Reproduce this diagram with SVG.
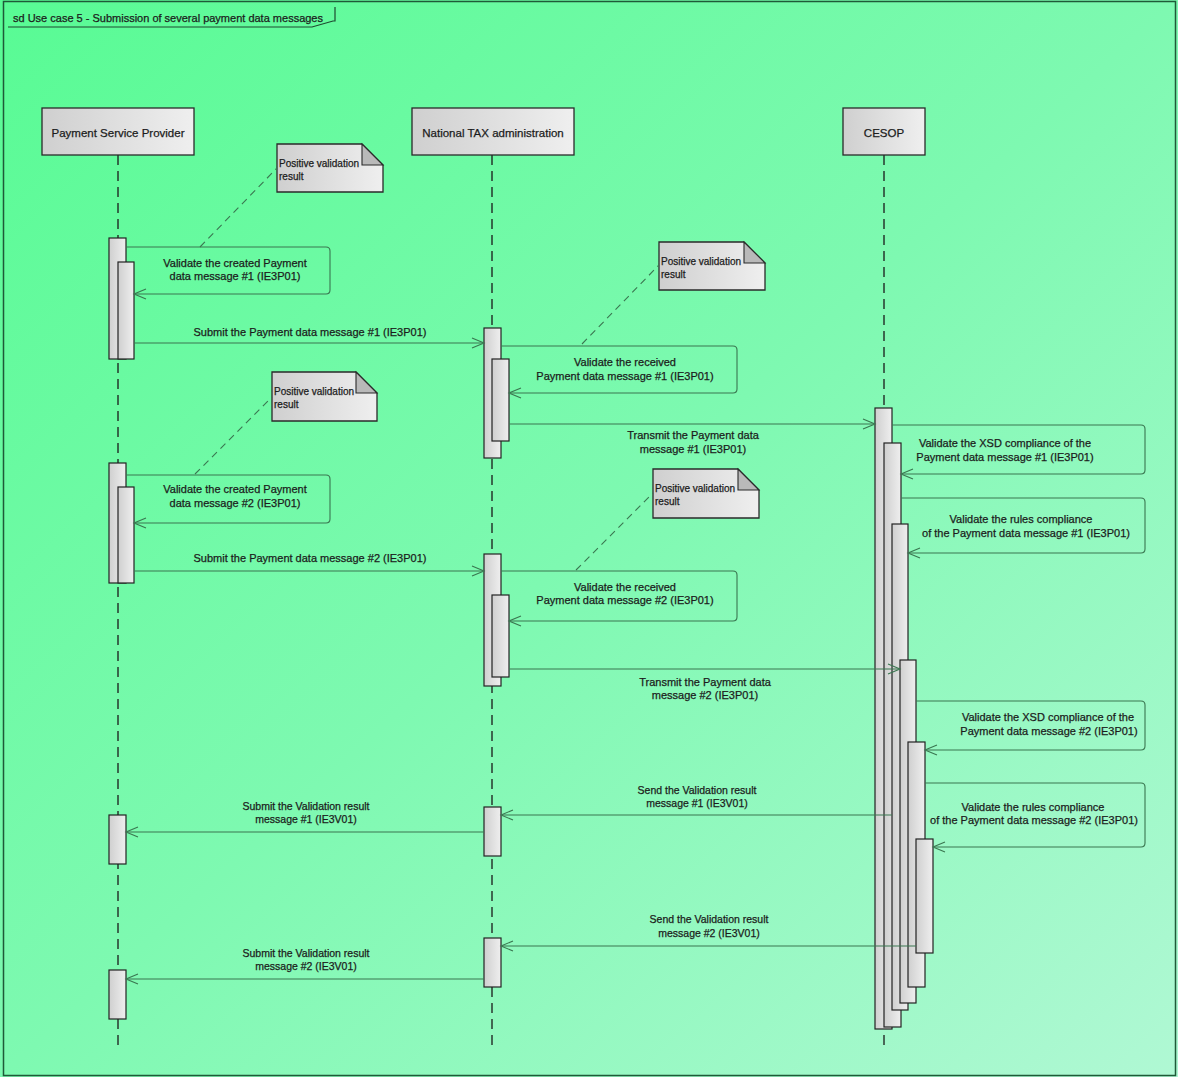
<svg xmlns="http://www.w3.org/2000/svg" width="1178" height="1077" viewBox="0 0 1178 1077">
<defs>
<linearGradient id="bg" x1="0" y1="0" x2="1" y2="1">
<stop offset="0" stop-color="#58fb94"/>
<stop offset="0.5" stop-color="#7ef9b1"/>
<stop offset="1" stop-color="#b0f8d4"/>
</linearGradient>
<linearGradient id="gray" x1="0" y1="0" x2="1" y2="0">
<stop offset="0" stop-color="#cfcfcf"/>
<stop offset="1" stop-color="#efefef"/>
</linearGradient>
<marker id="arr" viewBox="-14 -7 16 14" refX="0" refY="0" markerWidth="16" markerHeight="14" markerUnits="userSpaceOnUse" orient="auto">
<path d="M-12,-5 L0,0 L-12,5" fill="none" stroke="#3a7650" stroke-width="1.1"/>
</marker>
<style>
text{font-family:"Liberation Sans",Arial,sans-serif;fill:#1c1c1c;stroke:#1c1c1c;stroke-width:0.25;font-size:11px}
.hd{font-size:11.5px}
.c{text-anchor:middle}
.sm{font-size:10.5px}
.nt{font-size:10px}
.box{fill:url(#gray);stroke:#2a2a2a;stroke-width:1.3}
.bar{fill:url(#gray);stroke:#222;stroke-width:1.2}
.life{stroke:#1a1a1a;stroke-width:1.3;stroke-dasharray:10 6;fill:none}
.msg{fill:none;stroke:#3a7650;stroke-width:1.1;marker-end:url(#arr)}
.anc{fill:none;stroke:#3a7650;stroke-width:1.1;stroke-dasharray:7 5}
.fold{fill:#b9b9b9;stroke:#2a2a2a;stroke-width:1.1}
</style>
</defs>
<rect x="0" y="0" width="1178" height="1077" fill="url(#bg)"/>
<rect x="3.5" y="1.5" width="1172" height="1074" fill="none" stroke="#1f5a38" stroke-width="1.5"/>
<g id="frame-title">
<path d="M8,27 H312 L333,21 L335,21 V7" fill="none" stroke="#1f4a30" stroke-width="1.2"/>
<text x="13" y="22">sd Use case 5 - Submission of several payment data messages</text>
</g>

<g id="psp">
<line class="life" x1="118" y1="155" x2="118" y2="1047"/>
<rect class="box" x="42" y="108" width="152" height="47"/>
<text class="hd c" x="118" y="137">Payment  Service Provider</text>
</g>
<g id="nta">
<line class="life" x1="492" y1="155" x2="492" y2="1047"/>
<rect class="box" x="412" y="108" width="162" height="47"/>
<text class="hd c" x="493" y="137">National TAX administration</text>
</g>
<g id="cesop">
<line class="life" x1="884" y1="155" x2="884" y2="1047"/>
<rect class="box" x="843" y="108" width="82" height="47"/>
<text class="hd c" x="884" y="137">CESOP</text>
</g>

<g id="psp-activations">
<rect class="bar" x="109" y="238" width="17" height="121"/>
<rect class="bar" x="118" y="262" width="16" height="97"/>
<rect class="bar" x="109" y="463" width="17" height="120"/>
<rect class="bar" x="118" y="487" width="16" height="96"/>
<rect class="bar" x="109" y="815" width="17" height="49"/>
<rect class="bar" x="109" y="970" width="17" height="49"/>
</g>
<g id="nta-activations">
<rect class="bar" x="484" y="328" width="17" height="130"/>
<rect class="bar" x="492" y="359" width="17" height="82"/>
<rect class="bar" x="484" y="554" width="17" height="132"/>
<rect class="bar" x="492" y="595" width="17" height="82"/>
<rect class="bar" x="484" y="807" width="17" height="49"/>
<rect class="bar" x="484" y="938" width="17" height="49"/>
</g>
<g id="cesop-activations">
<rect class="bar" x="875" y="408" width="17" height="621"/>
<rect class="bar" x="884" y="443" width="17" height="584"/>
<rect class="bar" x="892" y="524" width="16" height="486"/>
<rect class="bar" x="900" y="660" width="16" height="343"/>
<rect class="bar" x="908" y="742" width="17" height="245"/>
<rect class="bar" x="916" y="839" width="17" height="114"/>
</g>

<g id="note1">
<path class="box" d="M277,144 H362 L383,165 V192 H277 Z"/>
<path class="fold" d="M362,144 V165 H383 Z"/>
<text class="nt" x="279" y="167">Positive validation</text>
<text class="nt" x="279" y="180">result</text>
</g>
<g id="note2">
<path class="box" d="M659,242 H744 L765,263 V290 H659 Z"/>
<path class="fold" d="M744,242 V263 H765 Z"/>
<text class="nt" x="661" y="265">Positive validation</text>
<text class="nt" x="661" y="278">result</text>
</g>
<g id="note3">
<path class="box" d="M272,372 H356 L377,393 V421 H272 Z"/>
<path class="fold" d="M356,372 V393 H377 Z"/>
<text class="nt" x="274" y="395">Positive validation</text>
<text class="nt" x="274" y="408">result</text>
</g>
<g id="note4">
<path class="box" d="M653,469 H738 L759,490 V518 H653 Z"/>
<path class="fold" d="M738,469 V490 H759 Z"/>
<text class="nt" x="655" y="492">Positive validation</text>
<text class="nt" x="655" y="505">result</text>
</g>

<g id="connectors">
<line class="anc" x1="200" y1="247" x2="277" y2="168"/>
<line class="anc" x1="582" y1="344" x2="659" y2="265"/>
<line class="anc" x1="195" y1="474" x2="272" y2="397"/>
<line class="anc" x1="576" y1="570" x2="653" y2="493"/>

<path class="msg" d="M126,247 H326 Q330,247 330,251 V290 Q330,294 326,294 H134"/>
<path class="msg" d="M134,343 H484"/>
<path class="msg" d="M501,346 H733 Q737,346 737,350 V389 Q737,393 733,393 H509"/>
<path class="msg" d="M509,424 H875"/>
<path class="msg" d="M126,475 H326 Q330,475 330,479 V519 Q330,523 326,523 H134"/>
<path class="msg" d="M134,571 H484"/>
<path class="msg" d="M501,571 H733 Q737,571 737,575 V617 Q737,621 733,621 H509"/>
<path class="msg" d="M509,669 H900"/>
<path class="msg" d="M892,425 H1141 Q1145,425 1145,429 V470 Q1145,474 1141,474 H901"/>
<path class="msg" d="M901,498 H1141 Q1145,498 1145,502 V549 Q1145,553 1141,553 H908"/>
<path class="msg" d="M916,701 H1141 Q1145,701 1145,705 V746 Q1145,750 1141,750 H925"/>
<path class="msg" d="M925,783 H1141 Q1145,783 1145,787 V843 Q1145,847 1141,847 H933"/>
<path class="msg" d="M892,815 H501"/>
<path class="msg" d="M484,832 H126"/>
<path class="msg" d="M916,946 H501"/>
<path class="msg" d="M484,979 H126"/>
</g>

<g id="labels">
<text class="c" x="235" y="267">Validate the created Payment</text>
<text class="c" x="235" y="280">data message #1 (IE3P01)</text>
<text class="c" x="310" y="336">Submit the Payment data message #1 (IE3P01)</text>
<text class="c" x="625" y="366">Validate the received</text>
<text class="c" x="625" y="380">Payment data message #1 (IE3P01)</text>
<text class="c" x="693" y="439">Transmit the Payment data</text>
<text class="c" x="693" y="453">message #1 (IE3P01)</text>
<text class="c" x="1005" y="447">Validate the XSD compliance of the</text>
<text class="c" x="1005" y="461">Payment data message #1 (IE3P01)</text>
<text class="c" x="1021" y="523">Validate the rules compliance</text>
<text class="c" x="1026" y="537">of the Payment data message #1 (IE3P01)</text>
<text class="c" x="235" y="493">Validate the created Payment</text>
<text class="c" x="235" y="507">data message #2 (IE3P01)</text>
<text class="c" x="310" y="562">Submit the Payment data message #2 (IE3P01)</text>
<text class="c" x="625" y="591">Validate the received</text>
<text class="c" x="625" y="604">Payment data message #2 (IE3P01)</text>
<text class="c" x="705" y="686">Transmit the Payment data</text>
<text class="c" x="705" y="699">message #2 (IE3P01)</text>
<text class="c" x="1048" y="721">Validate the XSD compliance of the</text>
<text class="c" x="1049" y="735">Payment data message #2 (IE3P01)</text>
<text class="c" x="1033" y="811">Validate the rules compliance</text>
<text class="c" x="1034" y="824">of the Payment data message #2 (IE3P01)</text>
<text class="c sm" x="697" y="794">Send the Validation result</text>
<text class="c sm" x="697" y="807">message #1 (IE3V01)</text>
<text class="c sm" x="306" y="810">Submit the Validation result</text>
<text class="c sm" x="306" y="823">message #1 (IE3V01)</text>
<text class="c sm" x="709" y="923">Send the Validation result</text>
<text class="c sm" x="709" y="937">message #2 (IE3V01)</text>
<text class="c sm" x="306" y="957">Submit the Validation result</text>
<text class="c sm" x="306" y="970">message #2 (IE3V01)</text>
</g>
</svg>
